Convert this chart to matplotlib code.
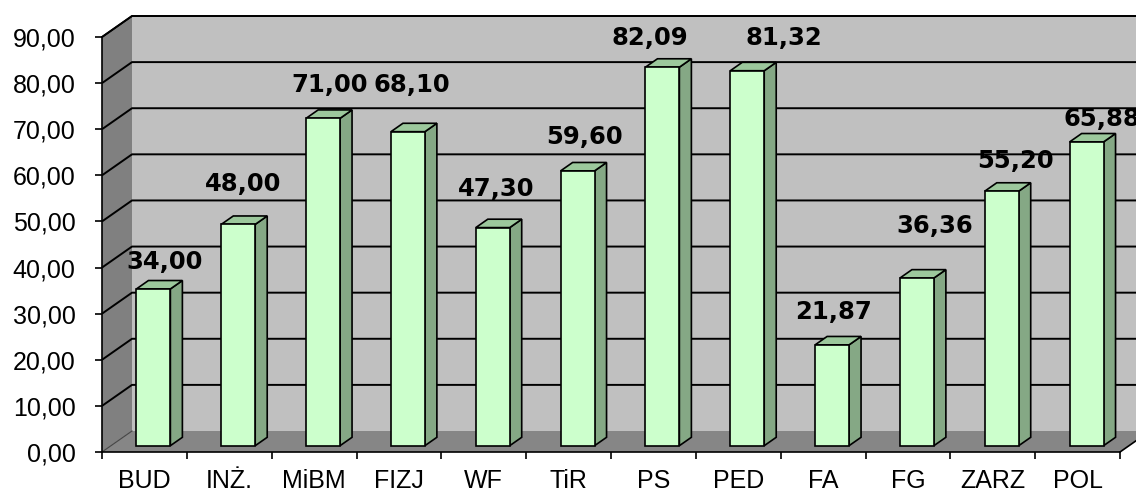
import matplotlib
matplotlib.use('Agg')
import matplotlib.pyplot as plt
from matplotlib.patches import Polygon

# dane
categories = ['BUD', 'INŻ.', 'MiBM', 'FIZJ', 'WF', 'TiR', 'PS', 'PED', 'FA', 'FG', 'ZARZ', 'POL']
values = [34.00, 48.00, 71.00, 68.10, 47.30, 59.60, 82.09, 81.32, 21.87, 36.36, 55.20, 65.88]
# przesunięcia etykiet (piksele) względem środka kategorii / wartości
label_dx = [20, 14, 16, 13, 12, 16, -4, 46, 10, 27, 23, 24]
label_dy = [33, 47, 40, 53, 45, 40, 35, 39, 39, 58, 36, 29]

y_max = 90
y_ticks = list(range(0, 100, 10))

# kolory
wall_back = '#c0c0c0'
wall_side = '#808080'
floor_col = '#868686'
bar_front = '#ccffcc'
bar_side = '#85a885'
bar_top = '#9cc89c'

fig = plt.figure(figsize=(11.36, 4.92), dpi=100, facecolor='white')
ax = fig.add_axes([102 / 1136, 40 / 492, 1018 / 1136, 415 / 492])
n = len(categories)
ax.set_xlim(0, n)
ax.set_ylim(0, y_max)

# głębokość 3D w jednostkach danych
dx = 30 / (1018 / n)
dy = 21 / (415 / y_max)

def poly(pts, fc, ec='none', lw=0, z=1):
    ax.add_patch(Polygon(pts, closed=True, facecolor=fc, edgecolor=ec,
                         linewidth=lw, zorder=z, clip_on=False, joinstyle='miter'))

# ściany
poly([(dx, dy), (n + dx, dy), (n + dx, y_max + dy), (dx, y_max + dy)], wall_back, z=0)
poly([(0, 0), (dx, dy), (dx, y_max + dy), (0, y_max)], wall_side, z=0)
poly([(0, 0), (n, 0), (n + dx, dy), (dx, dy)], floor_col, z=0)

# linie siatki
for t in y_ticks[1:]:
    ax.plot([0, dx, n + dx], [t, t + dy, t + dy], color='black', lw=1.4,
            zorder=0.5, clip_on=False, solid_capstyle='butt')
ax.plot([0, dx], [0, dy], color='#444444', lw=0.8, zorder=0.5, clip_on=False)
ax.plot([n, n + dx], [0, dy], color='black', lw=1.2, zorder=0.5, clip_on=False)

# słupki
w = 0.40
bdx, bdy = 0.4 * dx, 0.4 * dy
x0, y0 = 0.3 * dx, 0.3 * dy
for i, v in enumerate(values):
    xl = i + 0.5 - w / 2 + x0
    xr = xl + w
    top = v + y0
    poly([(xr, y0), (xr + bdx, y0 + bdy), (xr + bdx, top + bdy), (xr, top)],
         bar_side, 'black', 1.2, 2)
    poly([(xl, top), (xr, top), (xr + bdx, top + bdy), (xl + bdx, top + bdy)],
         bar_top, 'black', 1.2, 2)
    poly([(xl, y0), (xr, y0), (xr, top), (xl, top)], bar_front, 'black', 1.2, 2)

    ax.annotate(f'{v:.2f}'.replace('.', ','), xy=(i + 0.5, v),
                xytext=(label_dx[i], label_dy[i]), textcoords='offset pixels',
                ha='center', va='center', fontsize=17.5, fontweight='bold',
                family='DejaVu Sans', color='black', zorder=5, annotation_clip=False)

# osie
for s in ['top', 'right']:
    ax.spines[s].set_visible(False)
for s in ['left', 'bottom']:
    ax.spines[s].set_linewidth(1.2)
    ax.spines[s].set_zorder(3)
ax.plot([0, dx, n + dx], [y_max, y_max + dy, y_max + dy], color='black', lw=1.2,
        zorder=3, clip_on=False)

ax.set_yticks(y_ticks)
ax.set_yticklabels([f'{t:.2f}'.replace('.', ',') for t in y_ticks],
                   fontsize=18, family='Liberation Sans')
ax.set_xticks(range(n + 1))
ax.set_xticklabels([])
ax.set_xticks([i + 0.5 for i in range(n)], minor=True)
ax.set_xticklabels(categories, minor=True, fontsize=18, family='Liberation Sans')
ax.tick_params(axis='y', length=5, width=1.2, pad=14)
ax.tick_params(axis='x', which='major', length=5, width=1.2)
ax.tick_params(axis='x', which='minor', length=0, pad=12)
ax.set_facecolor('none')

plt.savefig('out.png', dpi=100, facecolor='white')
